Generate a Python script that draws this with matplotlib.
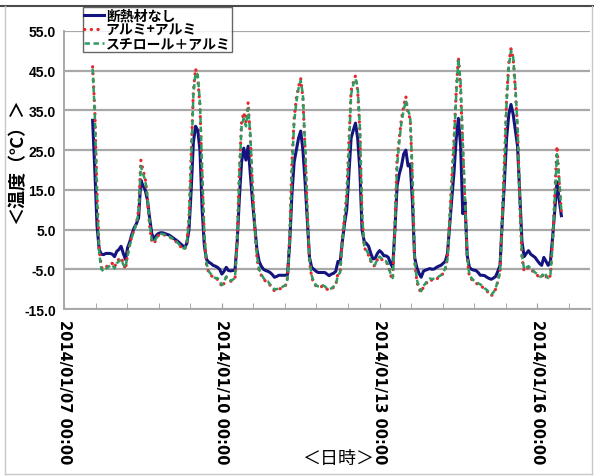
import matplotlib
matplotlib.use("Agg")
import matplotlib.pyplot as plt
import matplotlib.dates as mdates
from matplotlib.lines import Line2D
import pandas as pd
import numpy as np

plt.rcParams['font.family'] = ['Noto Sans CJK JP', 'DejaVu Sans']

# hourly readings from 2014/01/07 13:00
start_time = '2014-01-07 13:00'

no_insulation = [
    32.5, 20.0, 6.0, 0.0, -1.2, -1.3, -1.0, -1.0, -1.0, -1.2, -1.8, -0.5, 0.0, 0.8, -1.0, -2.5, 0.5, 2.0, 4.0, 5.5, 6.5, 8.0, 17.5, 16.0,
    15.0, 12.5, 8.0, 4.0, 2.5, 3.5, 4.0, 4.2, 4.2, 4.0, 3.8, 3.6, 3.2, 2.8, 2.4, 2.0, 1.5, 1.0, 0.5, 1.5, 5.0, 15.0, 27.0, 31.0,
    30.0, 25.0, 10.0, 1.0, -2.5, -3.2, -3.5, -4.0, -4.2, -4.5, -5.0, -6.2, -5.5, -4.5, -5.3, -5.4, -5.3, -5.2, 2.0, 13.0, 22.0, 25.5, 22.5, 26.0,
    19.0, 12.0, 6.0, 0.0, -3.0, -4.2, -5.0, -5.3, -5.5, -5.8, -6.3, -7.0, -6.8, -6.5, -6.5, -6.5, -6.5, -6.3, 2.0, 14.0, 22.0, 25.0, 28.0, 29.8,
    25.0, 17.0, 7.5, -2.0, -4.5, -5.0, -5.5, -5.8, -5.8, -5.8, -5.8, -6.2, -6.6, -6.2, -6.0, -5.5, -3.0, -3.3, 2.0, 6.5, 10.0, 19.0, 28.0, 30.0,
    31.8, 28.0, 20.0, 5.0, 2.0, 1.5, 0.8, -1.0, -2.4, -2.2, -1.0, -0.3, -0.8, -1.6, -1.6, -2.0, -3.5, -4.5, 5.0, 16.0, 19.0, 21.0, 24.0, 25.0,
    21.0, 21.5, 12.0, -2.0, -4.5, -6.0, -7.0, -5.5, -5.2, -5.0, -4.8, -5.0, -4.9, -4.5, -4.2, -4.0, -3.5, -3.0, -1.0, 6.0, 13.0, 19.5, 28.0, 33.0,
    26.0, 9.0, 12.0, -1.5, -4.5, -5.0, -5.2, -5.3, -5.8, -6.5, -6.5, -6.6, -7.0, -7.3, -7.5, -7.2, -6.8, -5.5, -4.0, 7.0, 17.0, 28.0, 34.0, 36.5,
    34.0, 30.0, 26.0, 14.0, 2.0, -1.8, -1.0, -0.3, -1.2, -1.6, -2.0, -2.8, -3.5, -4.0, -2.0, -3.0, -4.0, -3.0, 3.0, 10.0, 17.0, 12.5, 8.5,
]

alu_alu = [
    46.0, 35.0, 14.0, 0.0, -4.5, -5.0, -4.5, -4.0, -3.5, -3.5, -4.5, -3.0, -2.5, -2.0, -3.5, -5.0, -1.0, 1.5, 3.5, 5.0, 6.5, 10.0, 22.5, 20.0,
    18.0, 13.0, 6.0, 2.0, 1.5, 2.5, 3.5, 3.8, 3.8, 3.6, 3.4, 3.2, 2.8, 2.4, 2.0, 1.5, 0.8, 0.3, 0.0, 1.5, 8.0, 24.0, 40.0, 45.5,
    43.0, 36.0, 18.0, 3.0, -4.0, -5.8, -6.5, -7.0, -7.5, -7.5, -8.0, -9.5, -8.5, -7.0, -7.8, -8.0, -7.8, -7.5, 3.0, 20.0, 32.0, 34.5, 32.0, 37.0,
    28.0, 15.0, 6.0, -2.0, -5.5, -6.5, -7.5, -8.0, -8.3, -9.0, -9.8, -10.4, -10.3, -10.0, -9.8, -9.5, -9.2, -7.0, 4.0, 22.0, 33.0, 38.0, 41.0, 43.0,
    38.0, 25.0, 9.0, -3.0, -7.0, -8.5, -9.2, -9.5, -9.5, -9.2, -9.5, -10.0, -10.2, -10.0, -9.5, -9.0, -6.0, -5.5, 3.0, 8.0, 14.0, 27.0, 40.0, 42.0,
    43.7, 40.0, 30.0, 8.0, 0.5, -0.5, -1.5, -3.0, -4.2, -4.0, -2.5, -2.0, -2.5, -3.0, -3.2, -4.0, -6.5, -7.5, 6.0, 23.0, 28.0, 33.0, 36.0, 38.5,
    34.0, 33.0, 18.0, -3.0, -8.0, -10.0, -10.8, -9.5, -8.8, -8.0, -7.5, -7.8, -7.5, -7.5, -7.0, -6.8, -6.0, -5.0, -2.0, 8.0, 18.0, 28.0, 40.0, 48.5,
    40.0, 25.0, 12.0, -2.0, -7.0, -7.5, -8.0, -8.5, -8.8, -9.0, -9.5, -10.0, -10.5, -11.0, -11.7, -11.0, -10.0, -8.0, -5.5, 8.0, 22.0, 38.0, 47.0, 50.5,
    48.0, 40.0, 30.0, 12.0, -2.0, -5.5, -5.0, -4.5, -5.0, -5.5, -6.0, -6.5, -7.0, -7.0, -6.0, -6.8, -7.5, -6.5, 2.0, 14.0, 26.0, 17.0, 9.0,
]

styro_alu = [
    45.5, 34.0, 13.0, -1.0, -5.0, -5.5, -5.0, -4.5, -4.0, -3.8, -4.8, -3.5, -3.0, -2.5, -3.8, -4.5, -1.5, 1.0, 3.2, 5.0, 6.5, 9.5, 21.0, 19.0,
    17.5, 13.5, 6.5, 2.5, 1.8, 2.8, 3.6, 3.9, 3.9, 3.7, 3.5, 3.3, 2.9, 2.5, 2.1, 1.6, 0.9, 0.4, 0.2, 1.8, 7.0, 22.0, 39.0, 44.5,
    44.0, 37.0, 20.0, 4.0, -3.5, -5.5, -6.2, -6.8, -7.2, -7.2, -7.8, -9.0, -8.2, -6.8, -7.5, -7.8, -7.6, -7.2, 2.0, 19.0, 31.0, 33.0, 31.0, 35.5,
    29.0, 16.0, 6.5, -1.5, -5.0, -6.2, -7.2, -7.8, -8.0, -8.8, -9.5, -10.0, -10.0, -9.8, -9.6, -9.3, -9.0, -7.5, 3.0, 20.0, 32.0, 37.0, 40.5, 42.5,
    39.0, 26.0, 10.0, -2.5, -6.5, -8.2, -9.0, -9.3, -9.3, -9.0, -9.3, -9.8, -10.0, -9.8, -9.3, -8.8, -6.5, -5.8, 2.0, 7.5, 13.0, 25.0, 39.0, 41.5,
    43.0, 41.0, 31.0, 9.0, 1.0, -0.2, -1.2, -2.8, -4.0, -3.8, -2.3, -1.8, -2.3, -2.8, -3.0, -3.8, -6.2, -7.2, 5.0, 21.0, 27.0, 32.0, 35.0, 37.5,
    35.0, 33.5, 19.0, -2.5, -7.5, -9.5, -10.5, -9.2, -8.5, -7.8, -7.3, -7.5, -7.3, -7.2, -6.8, -6.5, -5.8, -4.8, -2.5, 7.0, 17.0, 27.0, 39.0, 48.0,
    42.0, 27.0, 13.0, -1.5, -6.5, -7.2, -7.8, -8.2, -8.5, -8.8, -9.2, -9.8, -10.2, -10.8, -11.3, -10.8, -9.8, -7.8, -5.8, 7.0, 21.0, 37.0, 46.0, 50.0,
    48.5, 41.0, 31.0, 13.0, -1.5, -5.0, -4.6, -4.2, -4.8, -5.2, -5.8, -6.2, -6.8, -6.8, -5.8, -6.5, -7.2, -6.3, 1.0, 13.0, 24.0, 18.0, 9.5,
]

series_labels = ['断熱材なし', 'アルミ+アルミ', 'スチロール＋アルミ']
y_ticks = [-15, -5, 5, 15, 25, 35, 45, 55]
x_label_dates = ['2014-01-07', '2014-01-10', '2014-01-13', '2014-01-16']

times = pd.date_range(start_time, periods=len(no_insulation), freq='h')

fig = plt.figure(figsize=(5.94, 4.77), dpi=100)
ax = fig.add_axes([0.108, 0.350, 0.885, 0.583])

ax.plot(times, no_insulation, color='#14147e', lw=2.2, label=series_labels[0], zorder=3)
ax.plot(times, alu_alu, color='#e8262b', lw=2.3, linestyle=(0, (0.1, 2.0)),
        dash_capstyle='round', label=series_labels[1], zorder=4)
ax.plot(times, styro_alu, color='#2e9c62', lw=1.8, linestyle=(0, (2.2, 1.4)),
        label=series_labels[2], zorder=5)

x0 = pd.Timestamp('2014-01-07 00:00')
ax.set_xlim(x0, x0 + pd.Timedelta(days=10))
ax.set_ylim(-15, 55)
ax.set_yticks(y_ticks)
ax.set_yticklabels([f'{v:.1f}' for v in y_ticks], fontfamily='Liberation Sans',
                   fontweight='bold', fontsize=10)

ax.xaxis.set_major_locator(plt.FixedLocator(mdates.date2num(pd.to_datetime(x_label_dates))))
ax.xaxis.set_major_formatter(mdates.DateFormatter('%Y/%m/%d %H:%M'))
base = mdates.date2num(x0)
ax.xaxis.set_minor_locator(plt.FixedLocator([base + 0.6 * k for k in range(17)]))
for lab in ax.get_xticklabels():
    lab.set_rotation(270)
    lab.set_fontfamily('DejaVu Sans')
    lab.set_fontweight('bold')
    lab.set_fontsize(10.5)
    lab.set_va('top')
    lab.set_ha('center')

ax.tick_params(axis='x', which='both', direction='in', length=4, color='#9a9a9a', pad=7)
ax.tick_params(axis='y', length=0, pad=6)

ax.grid(axis='y', color='#a8a8a8', lw=1.6)
ax.set_axisbelow(True)
for side in ['top', 'right']:
    ax.spines[side].set_visible(False)
ax.spines['left'].set_color('#a8a8a8')
ax.spines['bottom'].set_color('#a8a8a8')
ax.spines['left'].set_linewidth(1.4)
ax.spines['bottom'].set_linewidth(1.4)

fig.text(17 / 594, 1 - 161 / 477, '＜温度（℃）＞', rotation=90, ha='center', va='center',
         fontsize=13, fontweight='bold')
fig.text(338 / 594, 1 - 459 / 477, '＜日時＞', ha='center', va='center', fontsize=13)

leg = fig.legend(loc='upper left', bbox_to_anchor=(83 / 594, 1 - 8 / 477),
                 prop={'weight': 'bold', 'size': 10}, frameon=True, fancybox=False,
                 handlelength=1.4, handletextpad=0.15, borderpad=0.1,
                 labelspacing=0.0, borderaxespad=0)
leg.get_frame().set_edgecolor('#404040')
leg.get_frame().set_linewidth(1.0)

# outer chart border
fig.add_artist(Line2D([0, 1], [0.985, 0.985], color='#4a4a4a', lw=1.5))
fig.add_artist(Line2D([0.0085, 0.0085], [0.004, 0.985], color='#c8c8c8', lw=1.0))
fig.add_artist(Line2D([0.9966, 0.9966], [0.004, 0.985], color='#c8c8c8', lw=1.0))
fig.add_artist(Line2D([0.0085, 0.9966], [0.004, 0.004], color='#c8c8c8', lw=1.0))

fig.savefig('out.png', dpi=100)
